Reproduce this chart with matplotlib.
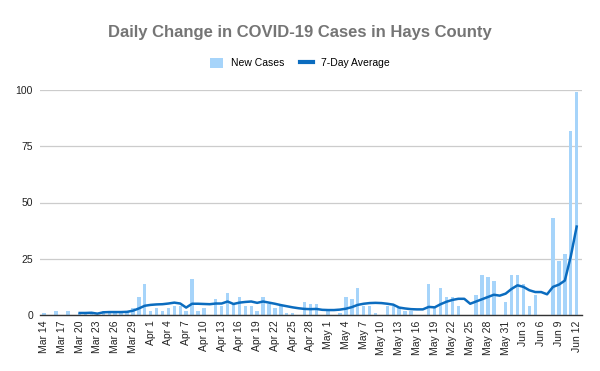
import numpy as np
import matplotlib
matplotlib.use("Agg")
import matplotlib.pyplot as plt
from matplotlib.lines import Line2D
from matplotlib.patches import Patch

plt.rcParams['font.family'] = ['Liberation Sans', 'DejaVu Sans']

# dados diarios, 14 mar ate 12 jun (91 dias)
novos_casos = [1, 0, 2, 0, 2, 0, 1, 1, 1, 0,
               2, 2, 2, 1, 2, 3, 8, 14, 2, 3,
               2, 3, 4, 4, 2, 16, 2, 3, 0, 7,
               4, 10, 5, 8, 4, 4, 2, 8, 5, 3,
               4, 1, 1, 0, 6, 5, 5, 0, 2, 0,
               1, 8, 7, 12, 4, 4, 1, 0, 4, 4,
               3, 2, 2, 0, 0, 14, 3, 12, 8, 8,
               4, 0, 0, 9, 18, 17, 15, 0, 6, 18,
               18, 14, 4, 9, 0, 0, 43, 24, 27, 82,
               99]

media_7d = [np.nan] * 6 + [
    0.9, 0.9, 1.0, 0.6, 1.2, 1.3, 1.3, 1.3, 1.4, 1.9,
    2.9, 4.1, 4.5, 4.7, 4.8, 5.1, 5.5, 5.1, 3.3, 5.0,
    5.0, 4.9, 4.8, 5.1, 5.1, 6.0, 4.9, 5.5, 5.8, 6.0,
    5.4, 6.0, 5.5, 5.0, 4.4, 3.9, 3.4, 3.0, 2.7, 2.6,
    2.7, 2.3, 2.2, 2.2, 2.4, 2.8, 3.5, 4.5, 5.0, 5.3,
    5.4, 5.3, 5.0, 4.6, 3.3, 2.9, 2.6, 2.5, 2.5, 3.6,
    3.4, 4.8, 5.9, 6.7, 7.2, 7.2, 5.0, 6.0, 7.0, 8.0,
    9.0, 8.6, 9.5, 11.6, 13.2, 12.5, 11.0, 10.2, 10.2, 9.2,
    12.5, 13.5, 15.3, 26.0, 39.3]

rotulos_x = ['Mar 14', 'Mar 17', 'Mar 20', 'Mar 23', 'Mar 26', 'Mar 29',
             'Apr 1', 'Apr 4', 'Apr 7', 'Apr 10', 'Apr 13', 'Apr 16',
             'Apr 19', 'Apr 22', 'Apr 25', 'Apr 28', 'May 1', 'May 4',
             'May 7', 'May 10', 'May 13', 'May 16', 'May 19', 'May 22',
             'May 25', 'May 28', 'May 31', 'Jun 3', 'Jun 6', 'Jun 9', 'Jun 12']

dias = np.arange(len(novos_casos))

cor_barra = '#a6d4fa'
cor_linha = '#0b6cbf'

fig = plt.figure(figsize=(6, 3.71), dpi=100)
ax = fig.add_axes([40/600, 1 - 315/371, 542/600, 225/371])

ax.bar(dias, novos_casos, width=0.58, color=cor_barra, zorder=2)
ax.plot(dias, media_7d, color=cor_linha, linewidth=1.8, zorder=3)

ax.set_xlim(-0.7, 90.9)
ax.set_ylim(0, 100)
ax.set_yticks([0, 25, 50, 75, 100])
ax.set_xticks(dias[::3])
ax.set_xticklabels(rotulos_x, rotation=90, fontsize=7.5, color='#222222')
ax.tick_params(axis='both', length=0, labelsize=7.5, colors='#222222')
ax.tick_params(axis='x', pad=4)
ax.tick_params(axis='y', pad=5)
ax.grid(axis='y', color='#cccccc', linewidth=0.9, zorder=0)
for lado in ['top', 'right', 'left']:
    ax.spines[lado].set_visible(False)
ax.spines['bottom'].set_color('#333333')
ax.spines['bottom'].set_linewidth(1.0)
ax.spines['bottom'].set_zorder(4)

fig.text(0.5, 1 - 33/371, 'Daily Change in COVID-19 Cases in Hays County',
         ha='center', va='center', fontsize=12, fontweight='bold', color='#757575')

handles = [Patch(facecolor=cor_barra, edgecolor='none', label='New Cases'),
           Line2D([0], [0], color=cor_linha, linewidth=3, label='7-Day Average')]
fig.legend(handles=handles, loc='center', bbox_to_anchor=(0.5, 1 - 63/371),
           ncol=2, frameon=False, fontsize=7.5, handlelength=1.2,
           handleheight=1.2, columnspacing=1.5, handletextpad=0.8)

fig.savefig('out.png', dpi=100)
